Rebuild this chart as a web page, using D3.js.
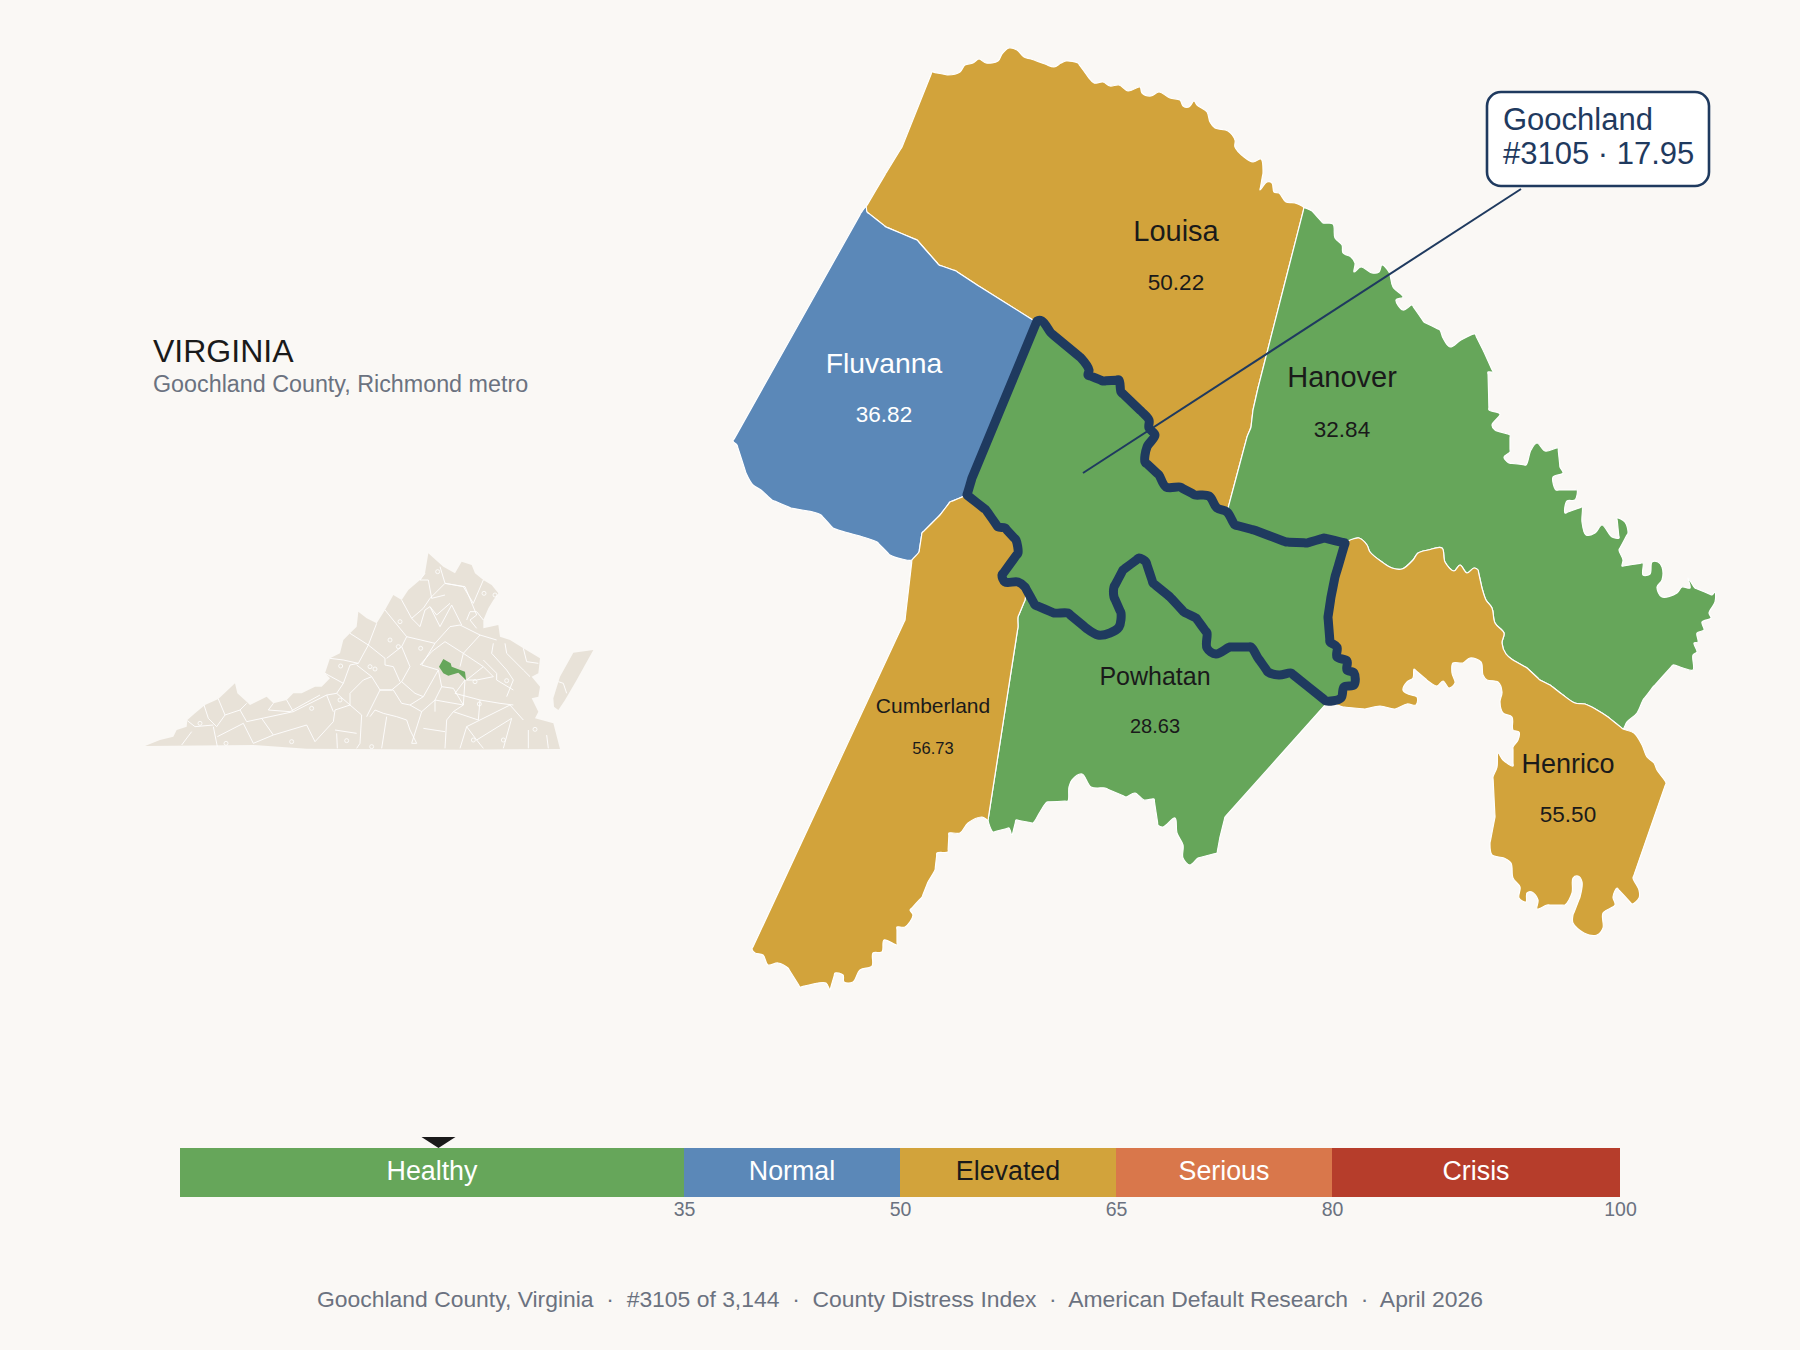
<!DOCTYPE html>
<html><head><meta charset="utf-8">
<script src="https://cdn.jsdelivr.net/npm/d3@7"></script>
<style>html,body{margin:0;padding:0;background:#FAF8F5}svg{display:block}text{font-family:"Liberation Sans",Arial,sans-serif}</style>
</head><body><svg id="c" width="1800" height="1350"></svg>
<script>
// ---- index bands ----
const bandEdges=[0,35,50,65,80,100];
const bandNames=["Healthy","Normal","Elevated","Serious","Crisis"];
const bandColors=["#66A65A","#5B88B8","#D2A33B","#D9774B","#B63D2B"];
const bandInk=["#FFFFFF","#FFFFFF","#1A1A1A","#FFFFFF","#FFFFFF"];
const tickVals=[35,50,65,80,100];
const goochName="Goochland", goochRank=3105, goochScore=17.95, totalCounties="3,144";
// ---- counties ----
const countyNames=["Louisa","Fluvanna","Hanover","Powhatan","Henrico","Cumberland"];
const countyScores=[50.22,36.82,32.84,28.63,55.50,56.73];
const labelAt=[[476,201],[184,333],[642,347],[455,645],[868,733],[233,673]];
const valueAt=[[476,250],[184,382],[642,397],[455,693],[868,782],[233,714]];
const nameSize=[29,28.3,29,25,27,21];
const valueSize=[22.5,22.5,22.5,20,22.5,16.5];
// ---- county outlines in map units, split in shared borders ----
const louisaTop=[[232,32],[248,35],[260,32],[265,25],[273,23],[279,19],[286,23],[298,21],[302,14],[309,8],[317,10],[324,17],[331,19],[345,24],[354,27],[361,23],[366,21],[378,23],[389,38],[394,43],[403,42],[410,46],[419,45],[428,51],[440,47],[442,53],[451,56],[459,52],[470,58],[480,60],[483,66],[489,67],[494,61],[497,65],[507,72],[510,82],[515,88],[528,91],[535,100],[535,107],[544,117],[553,122],[561,119],[563,133],[560,150],[567,142],[572,143],[574,152],[579,153],[586,162],[595,163],[604,168]];
const louisaHanover=[[604,168],[572,293],[558,348],[553,370],[551,387],[547,397],[527,472]];
const louisaFluvanna=[[166,167],[167,172],[186,187],[217,200],[239,225],[256,231],[277,245],[333,280],[337,281]];
const louisaWest=[[232,32],[202,107],[186,133],[166,167]];
const goochNorthA=[[337,281],[342,281],[351,293],[381,318],[389,330],[388,335],[403,341],[419,340],[421,352],[442,372],[449,380],[449,388],[455,395],[447,407],[445,422],[459,435],[466,447],[480,447],[495,455],[509,456],[517,468],[527,472]];
const goochNorthB=[[527,472],[535,485],[554,490],[586,502],[607,503],[624,498],[645,503]];
const goochEast=[[645,503],[638,527],[635,537],[631,557],[628,577],[630,602],[637,607],[637,617],[647,621],[647,630],[654,633],[654,645],[644,647],[641,658],[626,661]];
const goochPowhatan=[[626,661],[591,633],[579,635],[568,632],[558,618],[551,607],[530,607],[516,614],[507,608],[507,593],[496,578],[484,572],[470,557],[453,543],[446,522],[439,518],[423,530],[414,547],[414,557],[421,573],[419,587],[410,593],[398,595],[386,588],[368,573],[354,573],[335,565],[325,547]];
const goochCumberland=[[325,547],[318,542],[305,542],[302,535],[318,513],[316,500],[305,488],[298,487],[286,470],[267,455]];
const goochWest=[[267,455],[272,438],[337,281]];
const fluvannaWest=[[161,173],[33,401]];
const fluvannaSouth=[[33,401],[37,405],[46,433],[53,445],[61,450],[72,460],[91,468],[113,472],[121,475],[133,488],[145,492],[163,497],[177,502],[190,515],[202,519],[212,520]];
const fluvannaCumberland=[[212,520],[219,512],[222,493],[240,475],[250,462],[267,455]];
const cumberlandSouth=[[212,520],[205,580],[52,909],[55,913],[63,915],[68,925],[78,923],[88,928],[100,947],[118,943],[126,943],[130,950],[135,933],[143,935],[144,942],[153,942],[160,930],[172,926],[173,913],[182,912],[184,900],[197,905],[197,887],[205,887],[213,875],[210,870],[222,857],[228,842],[235,830],[237,813],[248,812],[249,793],[260,793],[268,783],[282,777],[288,780]];
const cumberlandPowhatan=[[288,780],[318,587],[318,577],[325,560],[325,547]];
const powhatanSouth=[[288,780],[293,792],[309,788],[312,796],[316,780],[333,783],[340,772],[347,762],[368,761],[369,747],[372,740],[382,734],[391,747],[405,748],[426,757],[435,753],[444,760],[454,759],[458,785],[463,787],[475,778],[477,793],[483,805],[483,818],[490,825],[498,818],[517,813],[520,797],[525,777],[626,664],[626,661]];
const hanoverTop=[[604,168],[612,171],[623,183],[633,184],[635,198],[642,205],[643,213],[651,217],[655,223],[654,232],[661,227],[672,233],[679,232],[682,225],[689,232],[693,247],[703,257],[696,260],[703,270],[712,265],[724,282],[740,290],[743,298],[750,307],[761,300],[775,294],[784,312],[793,332],[788,332],[789,370],[800,374],[792,385],[795,390],[810,395],[810,412],[804,417],[809,423],[826,425],[831,410],[837,403],[845,411],[858,408],[860,427],[863,433],[853,437],[856,450],[877,450],[875,460],[867,461],[865,473],[882,467],[882,482],[886,495],[895,493],[902,485],[912,497],[919,498],[917,478],[925,482],[928,493],[919,510],[923,520],[922,526],[943,523],[943,535],[950,534],[952,522],[958,522],[962,527],[962,540],[957,547],[962,557],[977,553],[982,547],[990,548],[988,538],[995,548],[1012,555],[1015,552],[1015,562],[1009,573],[1011,578],[1002,582],[1004,590],[997,593],[998,602],[994,603],[997,612],[993,615],[993,630],[983,628],[973,625],[953,647],[943,660],[937,673],[927,682],[923,689]];
const hanoverHenrico=[[923,689],[908,677],[897,670],[885,664],[875,663],[863,655],[850,645],[840,640],[827,628],[813,620],[806,614],[802,603],[804,593],[795,583],[792,568],[786,560],[782,548],[778,530],[774,528],[767,533],[760,525],[754,531],[745,522],[742,508],[728,510],[718,513],[713,520],[702,529],[692,528],[682,522],[670,512],[667,505],[659,498],[645,503]];
const henricoSouth=[[923,689],[934,693],[942,705],[947,717],[954,723],[957,730],[966,743],[933,838],[939,850],[939,858],[932,864],[917,848],[913,857],[915,865],[903,873],[903,888],[897,895],[884,893],[873,883],[873,875],[880,857],[882,842],[878,836],[873,838],[872,853],[865,865],[847,865],[837,869],[838,860],[832,852],[827,853],[826,862],[819,858],[820,847],[813,838],[811,823],[804,818],[792,815],[790,803],[795,777],[793,737],[797,727],[798,713],[803,720],[813,726],[813,707],[818,700],[819,692],[813,690],[812,677],[803,673],[800,662],[802,652],[798,642],[787,640],[783,635],[781,622],[770,618],[763,623],[753,623],[752,633],[755,643],[749,648],[743,641],[737,646],[728,641],[714,629],[713,638],[707,642],[703,650],[708,654],[717,657],[716,665],[707,664],[695,669],[680,666],[665,669],[643,667],[626,661]];
// leader + callout anchors in map units
const leaderFrom=[383,433], leaderTo=[821,149];
const calloutBox=[[787,52],[1009,146]];
// ---- Virginia locator, in its own map units ----
const vaOutline=[[45,648],[90,630],[130,620],[140,600],[170,590],[172,570],[195,550],[225,525],[265,507],[315,460],[322,490],[350,515],[360,525],[410,500],[430,520],[470,510],[490,490],[515,490],[555,470],[575,470],[600,445],[585,430],[600,385],[630,370],[640,330],[660,310],[680,290],[685,245],[710,265],[740,280],[765,240],[790,195],[815,210],[835,180],[870,150],[885,130],[895,70],[940,110],[975,130],[995,95],[1025,105],[1035,130],[1060,150],[1085,165],[1105,190],[1090,210],[1075,235],[1060,270],[1060,295],[1105,285],[1110,320],[1140,330],[1180,355],[1230,385],[1225,430],[1205,440],[1230,470],[1225,500],[1205,505],[1225,545],[1215,565],[1270,580],[1290,657],[1000,659],[530,656],[370,645]];
const vaShore=[[1330,368],[1390,360],[1362,410],[1340,450],[1305,510],[1285,540],[1272,530],[1270,505],[1290,440],[1318,390]];
const vaGooch=[[940,387],[962,400],[965,410],[1005,425],[1008,450],[985,428],[955,437],[940,430],[927,410]];
const vaBorders=[
[[222,525],[235,565],[260,590]],[[265,507],[285,555]],[[172,572],[195,590],[250,585]],[[330,540],[350,575],[420,560]],[[285,555],[330,540],[350,520]],[[260,590],[285,555]],[[250,590],[262,650]],[[185,605],[155,645]],[[340,580],[370,640]],[[395,565],[430,615]],[[262,620],[340,580]],[[370,640],[430,615],[530,585]],[[420,560],[490,545],[590,495]],[[430,520],[415,540],[480,545],[570,495]],[[470,510],[490,545]],[[530,585],[555,635],[610,575],[615,540],[660,525],[695,555]],[[590,495],[610,545]],[[585,430],[640,460],[620,490],[590,495]],[[620,490],[660,525]],[[695,555],[690,640],[680,655]],[[615,600],[680,610]],[[620,610],[622,655]],[[720,560],[735,540],[760,550],[800,560],[830,570],[840,600],[860,640]],[[770,560],[755,655]],[[710,560],[750,480],[790,480],[815,520]],[[660,525],[660,490],[700,450],[725,440],[680,405]],[[640,460],[660,405],[685,400]],[[600,385],[640,390],[685,400],[715,345]],[[660,310],[715,345],[765,385]],[[740,280],[715,345]],[[765,240],[830,320],[815,350],[770,385]],[[815,350],[840,410],[815,455],[855,490]],[[725,440],[750,480],[785,480],[815,455]],[[765,385],[765,405],[790,410],[810,455]],[[830,320],[915,340],[875,405],[925,420],[880,500]],[[855,490],[880,500],[840,525]],[[840,525],[875,545],[915,510],[1000,525]],[[815,520],[840,525]],[[905,365],[870,405]],[[925,420],[935,470],[915,510]],[[935,470],[970,475],[1000,525],[1005,450]],[[915,340],[960,290],[990,285],[1050,315]],[[905,365],[945,335],[1000,370],[1050,315],[1100,330]],[[1000,370],[990,410]],[[1000,370],[1060,410]],[[1060,410],[1010,450]],[[845,265],[880,235],[900,205],[945,160],[1000,170]],[[815,210],[845,265],[870,290],[885,240],[900,230],[930,290],[965,225],[995,285]],[[900,230],[920,255],[960,220]],[[945,160],[1005,170],[1040,255],[1020,270],[1040,295]],[[885,130],[870,150],[895,150],[905,205],[945,195]],[[945,160],[930,110]],[[1000,170],[1030,220],[1060,150]],[[1010,270],[1020,245],[1040,245],[1060,270]],[[1090,340],[1085,370],[1130,420],[1150,450],[1130,500]],[[1125,340],[1130,370],[1180,420],[1200,440]],[[1060,390],[1100,430],[1100,450],[1150,480]],[[1060,410],[1090,440],[1040,450],[1010,450]],[[1180,355],[1190,395],[1225,400]],[[1005,450],[975,490],[1050,510],[1110,520],[1150,525]],[[1050,510],[1045,570]],[[915,545],[915,510]],[[875,545],[845,640],[860,640]],[[970,545],[950,570],[945,655]],[[880,595],[945,605]],[[1045,570],[970,545],[1000,525]],[[1010,590],[1140,525],[1180,570]],[[1040,630],[1145,565],[1120,655]],[[990,655],[1010,590],[1040,630],[1060,655]],[[1195,600],[1195,655]],[[1250,615],[1255,655]],[[1285,455],[1300,460],[1310,490]]];
const vaCities=[[923,125],[810,275],[780,330],[805,350],[872,355],[632,408],[735,417],[720,410],[210,580],[630,510],[545,535],[1048,522],[1130,452],[1062,190],[1095,195],[1035,455],[650,632],[288,640],[485,635],[725,650],[1120,630],[1215,598],[1030,630]];

// ---- scales ----
const svg=d3.select("#c");
const BG="#FAF8F5",NAVY="#1F3A5F",INK="#1A1A1A",GREY="#6B7280",BEIGE="#E8E2D8";
svg.append("rect").attr("width",1800).attr("height",1350).attr("fill",BG);
const mx=d3.scaleLinear().domain([0,1020]).range([700,1720]);
const my=d3.scaleLinear().domain([0,1000]).range([40,1040]);
const ix=d3.scaleLinear().domain([0,1440]).range([130,610]);
const iy=d3.scaleLinear().domain([0,690]).range([530,760]);
const bx=d3.scaleLinear().domain([0,100]).range([180,1620]);
const mCurve=d3.line().x(d=>mx(d[0])).y(d=>my(d[1])).curve(d3.curveCatmullRomClosed.alpha(.5));
const iLine=d3.line().x(d=>ix(d[0])).y(d=>iy(d[1]));
const rev=a=>a.slice().reverse();
const colorOf=d3.scaleThreshold().domain(bandEdges.slice(1,5)).range(bandColors);
// keep long straight edges straight under the smoothing curve
const guard=ring=>{const out=[];ring.forEach((p,i)=>{const q=ring[(i+1)%ring.length],L=Math.hypot(q[0]-p[0],q[1]-p[1]);out.push(p);if(L>16){const t=3/L;out.push([p[0]+(q[0]-p[0])*t,p[1]+(q[1]-p[1])*t],[q[0]-(q[0]-p[0])*t,q[1]-(q[1]-p[1])*t]);}});return out;};

// ---- inset ----
const inset=svg.append("g");
[vaOutline,vaShore].forEach(p=>inset.append("path").attr("d",iLine(p)+"Z").attr("fill",BEIGE));
inset.selectAll("path.b").data(vaBorders).join("path").attr("class","b").attr("d",iLine).attr("fill","none").attr("stroke","#FFFFFF").attr("stroke-width",.9);
inset.selectAll("circle").data(vaCities).join("circle").attr("cx",d=>ix(d[0])).attr("cy",d=>iy(d[1])).attr("r",2).attr("fill","none").attr("stroke","#FFFFFF").attr("stroke-width",.8);
inset.append("path").attr("d",iLine(vaGooch)+"Z").attr("fill",colorOf(goochScore));

// ---- county polygons ----
const shapes={
 Louisa:[...louisaTop,...louisaHanover.slice(1),...rev(goochNorthA).slice(1),...rev(louisaFluvanna).slice(1),...rev(louisaWest).slice(1,-1)],
 Fluvanna:[...fluvannaWest,...fluvannaSouth.slice(1),...fluvannaCumberland.slice(1),...goochWest.slice(1),...rev(louisaFluvanna).slice(1)],
 Hanover:[...hanoverTop,...hanoverHenrico.slice(1),...rev(goochNorthB).slice(1),...rev(louisaHanover).slice(1,-1)],
 Powhatan:[...powhatanSouth,...goochPowhatan.slice(1),...rev(cumberlandPowhatan).slice(1,-1)],
 Henrico:[...rev(hanoverHenrico),...henricoSouth.slice(1),...rev(goochEast).slice(1,-1)],
 Cumberland:[...cumberlandSouth,...cumberlandPowhatan.slice(1),...goochCumberland.slice(1),...rev(fluvannaCumberland).slice(1,-1)]
};
const counties=svg.append("g");
countyNames.forEach((n,i)=>counties.append("path").attr("d",mCurve(guard(shapes[n]))).attr("fill",colorOf(countyScores[i])).attr("stroke","#FFFFFF").attr("stroke-width",1.2).attr("stroke-linejoin","round"));
// Goochland
const goochRing=[...goochNorthA,...goochNorthB.slice(1),...goochEast.slice(1),...goochPowhatan.slice(1),...goochCumberland.slice(1),...goochWest.slice(1,-1)];
svg.append("path").attr("d",mCurve(guard(goochRing))).attr("fill",colorOf(goochScore)).attr("stroke",NAVY).attr("stroke-width",9).attr("stroke-linejoin","round");

// ---- leader + callout ----
svg.append("line").attr("x1",mx(leaderFrom[0])).attr("y1",my(leaderFrom[1])).attr("x2",mx(leaderTo[0])).attr("y2",my(leaderTo[1])).attr("stroke",NAVY).attr("stroke-width",2);
svg.append("rect").attr("x",mx(calloutBox[0][0])).attr("y",my(calloutBox[0][1])).attr("width",mx(calloutBox[1][0])-mx(calloutBox[0][0])).attr("height",my(calloutBox[1][1])-my(calloutBox[0][1])).attr("rx",14).attr("fill","#FFFFFF").attr("stroke",NAVY).attr("stroke-width",2.6);
svg.append("text").attr("x",1503).attr("y",129.5).attr("font-size",31).attr("fill",NAVY).text(goochName);
svg.append("text").attr("x",1503).attr("y",163.5).attr("font-size",31).attr("fill",NAVY).text(`#${goochRank} · ${goochScore.toFixed(2)}`);

// ---- county labels ----
countyNames.forEach((n,i)=>{
 const ink=colorOf(countyScores[i])==="#5B88B8"?"#FFFFFF":INK;
 svg.append("text").attr("x",mx(labelAt[i][0])).attr("y",my(labelAt[i][1])).attr("text-anchor","middle").attr("font-size",nameSize[i]).attr("fill",ink).text(n);
 svg.append("text").attr("x",mx(valueAt[i][0])).attr("y",my(valueAt[i][1])).attr("text-anchor","middle").attr("font-size",valueSize[i]).attr("fill",ink).text(countyScores[i].toFixed(2));
});

// ---- titles ----
svg.append("text").attr("x",153).attr("y",362).attr("font-size",32).attr("fill",INK).text("VIRGINIA");
svg.append("text").attr("x",153).attr("y",392).attr("font-size",23.3).attr("fill",GREY).text("Goochland County, Richmond metro");

// ---- index bar ----
const bar=svg.append("g");
const bands=bandNames.map((n,i)=>({n,a:bandEdges[i],b:bandEdges[i+1],c:bandColors[i],k:bandInk[i]}));
bar.selectAll("rect").data(bands).join("rect").attr("x",d=>bx(d.a)).attr("y",1148).attr("width",d=>bx(d.b)-bx(d.a)).attr("height",49).attr("fill",d=>d.c);
bar.selectAll("text").data(bands).join("text").attr("x",d=>bx((d.a+d.b)/2)).attr("y",1180).attr("text-anchor","middle").attr("font-size",26.8).attr("fill",d=>d.k).text(d=>d.n);
const axis=svg.append("g").attr("transform","translate(0,1197)").call(d3.axisBottom(bx).tickValues(tickVals).tickSize(0).tickPadding(5));
axis.select(".domain").remove();
axis.selectAll("text").attr("font-size",19.5).attr("fill",GREY).attr("font-family",'"Liberation Sans",Arial,sans-serif');
svg.append("path").attr("d",`M${bx(goochScore)-17},1137H${bx(goochScore)+17}L${bx(goochScore)},1148Z`).attr("fill",INK);

// ---- footer ----
svg.append("text").attr("x",900).attr("y",1307).attr("text-anchor","middle").attr("font-size",22.9).attr("fill",GREY).attr("xml:space","preserve").style("white-space","pre").text(`Goochland County, Virginia  ·  #${goochRank} of ${totalCounties}  ·  County Distress Index  ·  American Default Research  ·  April 2026`);
</script></body></html>
